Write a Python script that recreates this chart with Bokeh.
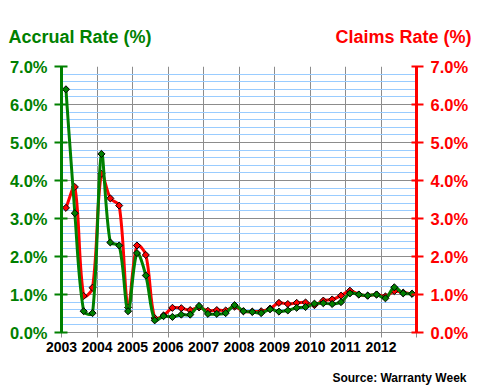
import numpy as np
from bokeh.plotting import figure
from bokeh.models import (Range1d, LinearAxis, FixedTicker, SingleIntervalTicker,
                          PrintfTickFormatter, Label)
from bokeh.embed import file_html
from bokeh.resources import INLINE

# ---- data -------------------------------------------------------------
years = ["2003", "2004", "2005", "2006", "2007", "2008", "2009", "2010", "2011", "2012"]
quarters = ["Q1", "Q2", "Q3", "Q4"]

accrual_rate = [6.40, 3.14, 0.56, 0.51,
                4.70, 2.37, 2.29, 0.56,
                2.09, 1.50, 0.32, 0.43,
                0.41, 0.47, 0.47, 0.70,
                0.49, 0.49, 0.51, 0.72,
                0.56, 0.54, 0.51, 0.61,
                0.55, 0.58, 0.65, 0.67,
                0.76, 0.77, 0.75, 0.80,
                1.03, 1.00, 0.97, 1.00,
                0.90, 1.19, 1.03, 1.02]

claims_rate = [3.28, 3.83, 0.96, 1.18,
               4.18, 3.53, 3.34, 0.66,
               2.29, 2.04, 0.38, 0.45,
               0.65, 0.64, 0.59, 0.66,
               0.57, 0.59, 0.58, 0.68,
               0.56, 0.55, 0.56, 0.63,
               0.78, 0.75, 0.78, 0.79,
               0.72, 0.84, 0.87, 0.97,
               1.10, 1.00, 0.97, 1.00,
               0.95, 1.09, 1.05, 1.02]

y_ticks_pct = [0, 1, 2, 3, 4, 5, 6, 7]

GREEN = "#008000"
RED = "#FF0000"
GRAY = "#8C8C8C"
BLUE = "#99CCFF"
FONT = "Liberation Sans"

W, H = 480, 390
FRAME_L, FRAME_R, FRAME_T, FRAME_B = 61, 64, 66, 58
FRAME_W = W - FRAME_L - FRAME_R
FRAME_H = H - FRAME_T - FRAME_B

first_year = int(years[0])
n_years = len(years)
# each quarter sits in the middle of its quarter-of-a-year slot
xq = np.array([first_year + yi + (qi + 0.5) / len(quarters)
               for yi in range(n_years) for qi in range(len(quarters))])

# pixel size of one data unit (used only for the shape of the smoothed curve)
PX_X = FRAME_W / n_years
PX_Y = FRAME_H / (y_ticks_pct[-1] - y_ticks_pct[0])


def smooth_segments(xs, ys):
    """Bezier segments through the points (Excel-like 'smoothed line')."""
    x = np.asarray(xs, float)
    y = np.asarray(ys, float)
    n = len(x)
    xp = np.concatenate([[x[0]], x, [x[-1]]])
    yp = np.concatenate([[y[0]], y, [y[-1]]])
    d = np.hypot(np.diff(xp) * PX_X, np.diff(yp) * PX_Y)
    d01 = d[0:n - 1]
    d12 = d[1:n]
    d23 = d[2:n + 1]
    f0 = d12 / (d01 + d12 + 1e-12) / 3.0
    f1 = d12 / (d12 + d23 + 1e-12) / 3.0
    return dict(
        x0=x[:-1], y0=y[:-1], x1=x[1:], y1=y[1:],
        cx0=xp[1:-2] + (xp[2:-1] - xp[0:-3]) * f0,
        cy0=yp[1:-2] + (yp[2:-1] - yp[0:-3]) * f0,
        cx1=xp[2:-1] - (xp[3:] - xp[1:-2]) * f1,
        cy1=yp[2:-1] - (yp[3:] - yp[1:-2]) * f1,
    )


p = figure(width=W, height=H, output_backend="svg", toolbar_location=None,
           x_range=Range1d(first_year, first_year + n_years),
           y_range=Range1d(y_ticks_pct[0], y_ticks_pct[-1]),
           min_border_left=FRAME_L, min_border_right=FRAME_R,
           min_border_top=FRAME_T, min_border_bottom=FRAME_B)
p.extra_y_ranges = {"claims": Range1d(y_ticks_pct[0], y_ticks_pct[-1])}
p.outline_line_color = None
p.background_fill_color = "white"
p.border_fill_color = "white"

# x axis
xticks = [first_year + i for i in range(n_years + 1)]
xa = p.xaxis[0]
xa.ticker = FixedTicker(ticks=xticks)
overrides = {first_year + i: years[i] for i in range(n_years)}
overrides[first_year + n_years] = ""
xa.major_label_overrides = overrides
xa.axis_line_color = GRAY
xa.axis_line_width = 1
xa.major_tick_line_color = GRAY
xa.major_tick_out = 5
xa.major_tick_in = 0
xa.minor_tick_line_color = None
xa.major_label_text_font = FONT
xa.major_label_text_font_style = "bold"
xa.major_label_text_font_size = "14px"
xa.major_label_text_color = "black"
xa.major_label_standoff = 4

# left y axis (accrual)
ya = p.yaxis[0]
ya.ticker = SingleIntervalTicker(interval=1, num_minor_ticks=5)
ya.formatter = PrintfTickFormatter(format="%.1f%%")
ya.axis_line_color = GREEN
ya.axis_line_width = 3
ya.major_tick_line_color = GREEN
ya.major_tick_line_width = 2
ya.major_tick_out = 7
ya.major_tick_in = 6
ya.minor_tick_line_color = None
ya.major_label_text_font = FONT
ya.major_label_text_font_style = "bold"
ya.major_label_text_font_size = "16.5px"
ya.major_label_text_color = GREEN
ya.major_label_standoff = 7

# right y axis (claims)
ra = LinearAxis(y_range_name="claims",
                ticker=SingleIntervalTicker(interval=1, num_minor_ticks=5),
                formatter=PrintfTickFormatter(format="%.1f%%"))
ra.axis_line_color = RED
ra.axis_line_width = 3
ra.major_tick_line_color = RED
ra.major_tick_line_width = 2
ra.major_tick_out = 7
ra.major_tick_in = 5
ra.minor_tick_line_color = None
ra.major_label_text_font = FONT
ra.major_label_text_font_style = "bold"
ra.major_label_text_font_size = "16.5px"
ra.major_label_text_color = RED
ra.major_label_standoff = 7
p.add_layout(ra, "right")

# grids
p.xgrid.grid_line_color = GRAY
p.xgrid.grid_line_width = 1
p.ygrid.grid_line_color = GRAY
p.ygrid.grid_line_width = 1
p.ygrid.minor_grid_line_color = BLUE
p.ygrid.minor_grid_line_width = 1

# claims series (secondary axis)
p.bezier(line_color=RED, line_width=3, line_cap="round", y_range_name="claims",
         **smooth_segments(xq, claims_rate))
p.scatter(xq, claims_rate, marker="square", angle=np.pi / 4, size=5,
          fill_color=RED, line_color="black", line_width=1, y_range_name="claims")

# accrual series
p.bezier(line_color=GREEN, line_width=3, line_cap="round",
         **smooth_segments(xq, accrual_rate))
p.scatter(xq, accrual_rate, marker="square", angle=np.pi / 4, size=5,
          fill_color=GREEN, line_color="black", line_width=1)

# ---- texts outside the frame (placed in the side panel above) ----------
H1 = 20   # height of first label panel
H2 = 20   # height of second label panel
TITLE_BASE = 36
p.add_layout(Label(x=8 - FRAME_L, y=FRAME_T - TITLE_BASE, x_units="screen", y_units="screen",
                   text="Accrual Rate (%)", text_font=FONT, text_font_style="bold",
                   text_font_size="18px", text_color=GREEN,
                   text_align="left", text_baseline="alphabetic"), "above")
p.add_layout(Label(x=471 - FRAME_L, y=FRAME_T - H1 - TITLE_BASE, x_units="screen", y_units="screen",
                   text="Claims Rate (%)", text_font=FONT, text_font_style="bold",
                   text_font_size="18px", text_color=RED,
                   text_align="right", text_baseline="alphabetic"), "above")
p.add_layout(Label(x=466 - FRAME_L, y=FRAME_T - H1 - H2 - 377, x_units="screen", y_units="screen",
                   text="Source: Warranty Week", text_font=FONT, text_font_style="bold",
                   text_font_size="12px", text_color="black",
                   text_align="right", text_baseline="middle"), "above")

open("out.html", "w").write(file_html(p, INLINE))
